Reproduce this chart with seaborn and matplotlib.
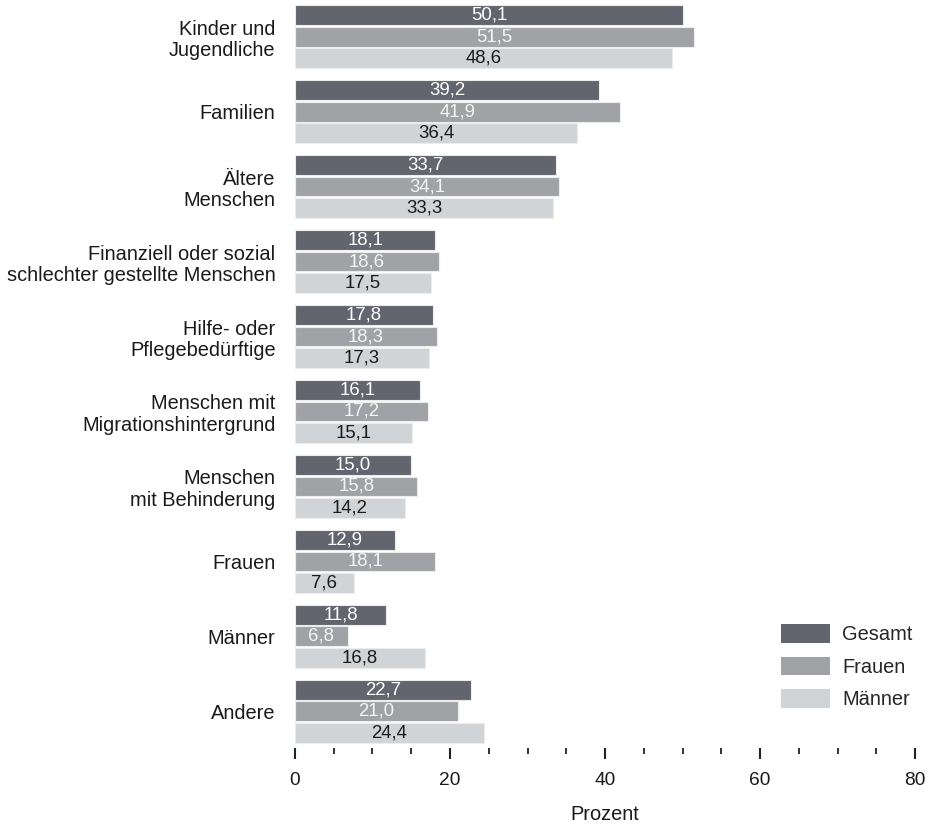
import matplotlib
matplotlib.use("Agg")
import matplotlib.pyplot as plt
from matplotlib.ticker import MultipleLocator
import seaborn as sns
import pandas as pd

categories = [
    "Kinder und\nJugendliche",
    "Familien",
    "Ältere\nMenschen",
    "Finanziell oder sozial\nschlechter gestellte Menschen",
    "Hilfe- oder\nPflegebedürftige",
    "Menschen mit\nMigrationshintergrund",
    "Menschen\nmit Behinderung",
    "Frauen",
    "Männer",
    "Andere",
]
series = ["Gesamt", "Frauen", "Männer"]
gesamt = [50.1, 39.2, 33.7, 18.1, 17.8, 16.1, 15.0, 12.9, 11.8, 22.7]
frauen = [51.5, 41.9, 34.1, 18.6, 18.3, 17.2, 15.8, 18.1, 6.8, 21.0]
maenner = [48.6, 36.4, 33.3, 17.5, 17.3, 15.1, 14.2, 7.6, 16.8, 24.4]
colors = ["#63656e", "#a0a2a6", "#d1d4d7"]
label_colors = ["#ffffff", "#f4f4f4", "#1a1a1a"]

rows = []
for s, vals in zip(series, [gesamt, frauen, maenner]):
    for c, v in zip(categories, vals):
        rows.append({"Kategorie": c, "Gruppe": s, "Prozent": v})
df = pd.DataFrame(rows)

sns.set_theme(style="white")
plt.rcParams["font.family"] = ["Liberation Sans", "DejaVu Sans"]
FS = 13.8
FS_CAT = 14.4

W, H = 929, 826
fig = plt.figure(figsize=(W / 100, H / 100), dpi=100)
ax_left, ax_right = 295 / W, 915 / W
ax_top_px, ax_bot_px = 0, 748
ax = fig.add_axes([ax_left, 1 - ax_bot_px / H, ax_right - ax_left, (ax_bot_px - ax_top_px) / H])

sns.barplot(
    data=df, y="Kategorie", x="Prozent", hue="Gruppe",
    order=categories, hue_order=series, palette=colors,
    orient="h", width=0.85, gap=0.06, ax=ax,
    edgecolor="#ececec", linewidth=0.8, saturation=1,
)

for cont, tc in zip(ax.containers, label_colors):
    labels = [f"{b.get_width():.1f}".replace(".", ",") for b in cont]
    ax.bar_label(cont, labels=labels, label_type="center", color=tc, fontsize=FS - 0.4)

ax.set_xlim(0, 80)
ax.set_ylim(9.487, -0.487)
ax.xaxis.set_major_locator(MultipleLocator(20))
ax.xaxis.set_minor_locator(MultipleLocator(5))
for sp in ax.spines.values():
    sp.set_visible(False)
ax.tick_params(axis="x", which="major", bottom=True, length=8, width=1.5, color="#222222",
               labelsize=FS, labelcolor="#1a1a1a", pad=9)
ax.tick_params(axis="x", which="minor", bottom=True, length=4.5, width=1.3, color="#222222")
ax.tick_params(axis="y", left=False, labelsize=FS_CAT, labelcolor="#1a1a1a", pad=8)
for t in ax.get_yticklabels():
    t.set_horizontalalignment("right")
    t.set_linespacing(1.17)
ax.set_ylabel("")
ax.set_xlabel("Prozent", fontsize=FS_CAT, color="#1a1a1a", labelpad=12)

leg = ax.legend(
    loc="upper left", bbox_to_anchor=(781 / W, 1 - 624 / H), bbox_transform=fig.transFigure,
    frameon=False, fontsize=FS_CAT, handlelength=2.45, handleheight=1.05,
    labelspacing=0.62, handletextpad=0.62, borderpad=0, borderaxespad=0,
)
for h in leg.legend_handles:
    h.set_edgecolor("none")

fig.savefig("out.png", dpi=100)
